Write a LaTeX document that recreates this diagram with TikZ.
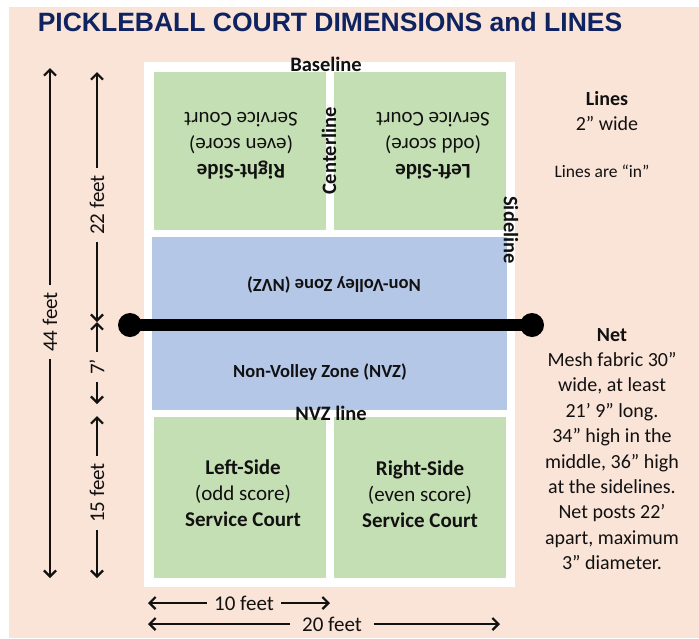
\documentclass[tikz,border=0pt]{standalone}
\usepackage{fontspec}
\setmainfont{Carlito}
\newfontfamily\titlefont{Liberation Sans}
\usetikzlibrary{arrows.meta}
\definecolor{peach}{HTML}{FAE3D7}
\definecolor{courtgreen}{HTML}{C5DFB4}
\definecolor{nvzblue}{HTML}{B4C7E7}
\definecolor{navy}{HTML}{0F2361}
\definecolor{ink}{HTML}{111111}

\begin{document}
\begin{tikzpicture}[x=1pt,y=-1pt,
  lbl/.style={font=\fontsize{20.5}{24}\selectfont\bfseries, text=ink, inner sep=0pt},
  boxtext/.style={font=\fontsize{21}{26}\selectfont, align=center, text=ink, inner sep=0pt},
  zonetext/.style={font=\fontsize{18.5}{22}\selectfont\bfseries, text=ink, inner sep=0pt},
  note/.style={font=\fontsize{20}{25.4}\selectfont, align=center, text=ink, inner sep=0pt},
  dimlbl/.style={font=\fontsize{21}{24}\selectfont, text=ink, inner xsep=7pt, inner ysep=0pt},
  dim/.style={line width=2.2pt, draw=ink, -{Straight Barb[length=6pt,width=12pt,line width=2.2pt]}},
  netline/.style={line width=12pt, draw=black},
]
\useasboundingbox (0,0) rectangle (699,638);
% page background
\fill[white] (0,0) rectangle (699,638);
\fill[peach] (9,7) rectangle (699,638);

% title
\node[font=\titlefont\fontsize{26.5}{30}\selectfont\bfseries, text=navy, inner sep=0pt] (title) at (330,22)
  {PICKLEBALL COURT DIMENSIONS and LINES};

% court surface and lines
\fill[white] (144,62) rectangle (515,587);
\fill[courtgreen] (154,72) rectangle (326,230);
\fill[courtgreen] (334,72) rectangle (506,230);
\fill[nvzblue] (152,237) rectangle (507,410);
\fill[courtgreen] (154,417) rectangle (326,578);
\fill[courtgreen] (334,417) rectangle (506,578);

% line names
\node[lbl] (baseline) at (326,64) {Baseline};
\node[lbl, rotate=90] (centerline) at (329,151) {Centerline};
\node[lbl, rotate=-90] (sideline) at (511,230) {Sideline};
\node[lbl] (nvzline) at (331,413) {NVZ line};

% far side (upside down)
\node[boxtext, rotate=180] (farL) at (241,146) {\textbf{Right-Side}\\(even score)\\Service Court};
\node[boxtext, rotate=180] (farR) at (433,146) {\textbf{Left-Side}\\(odd score)\\Service Court};
\node[zonetext, rotate=180] (farNVZ) at (334,285) {Non-Volley Zone (NVZ)};

% near side
\node[zonetext] (nearNVZ) at (320,372) {Non-Volley Zone (NVZ)};
\node[boxtext] (nearL) at (243,493) {\textbf{Left-Side}\\(odd score)\\\textbf{Service Court}};
\node[boxtext] (nearR) at (420,494) {\textbf{Right-Side}\\(even score)\\\textbf{Service Court}};

% net and posts
\coordinate (postL) at (130,325);
\coordinate (postR) at (532,325);
\draw[netline] (postL) -- (postR);
\fill[black] (postL) circle (12);
\fill[black] (postR) circle (12);

% notes
\node[note] (lines) at (607,111) {\textbf{Lines}\\2” wide};
\node[note, font=\fontsize{17.5}{20}\selectfont] (linesin) at (602,171) {Lines are “in”};
\node[note] (net) at (612,449)
  {\textbf{Net}\\Mesh fabric 30”\\wide, at least\\21’ 9” long.\\34” high in the\\middle, 36” high\\at the sidelines.\\Net posts 22’\\apart, maximum\\3” diameter.};

% overall length
\coordinate (d44t) at (50,68);
\coordinate (d44b) at (50,578);
\node[dimlbl, rotate=90] (t44) at (50,322) {44 feet};
\draw[dim] (t44.east) -- (d44t);
\draw[dim] (t44.west) -- (d44b);

% partial lengths
\coordinate (m0) at (97,72);
\coordinate (mnet) at (97,322);
\coordinate (mnvz1) at (97,404);
\coordinate (mnvz2) at (97,416);
\coordinate (mbot) at (97,578);
\node[dimlbl, rotate=90] (t22) at (97,205) {22 feet};
\draw[dim] (t22.east) -- (m0);
\draw[dim] (t22.west) -- (mnet);
\node[dimlbl, rotate=90] (t7) at (97,367) {7’};
\draw[dim] (t7.east) -- (mnet);
\draw[dim] (t7.west) -- (mnvz1);
\node[dimlbl, rotate=90] (t15) at (97,493) {15 feet};
\draw[dim] (t15.east) -- (mnvz2);
\draw[dim] (t15.west) -- (mbot);

% widths
\coordinate (w10l) at (148,603);
\coordinate (w10r) at (330,603);
\node[dimlbl] (t10) at (244,603) {10 feet};
\draw[dim] (t10.west) -- (w10l);
\draw[dim] (t10.east) -- (w10r);
\coordinate (w20l) at (148,624);
\coordinate (w20r) at (500,624);
\node[dimlbl, inner xsep=12pt] (t20) at (332,624) {20 feet};
\draw[dim] (t20.west) -- (w20l);
\draw[dim] (t20.east) -- (w20r);
\end{tikzpicture}
\end{document}
